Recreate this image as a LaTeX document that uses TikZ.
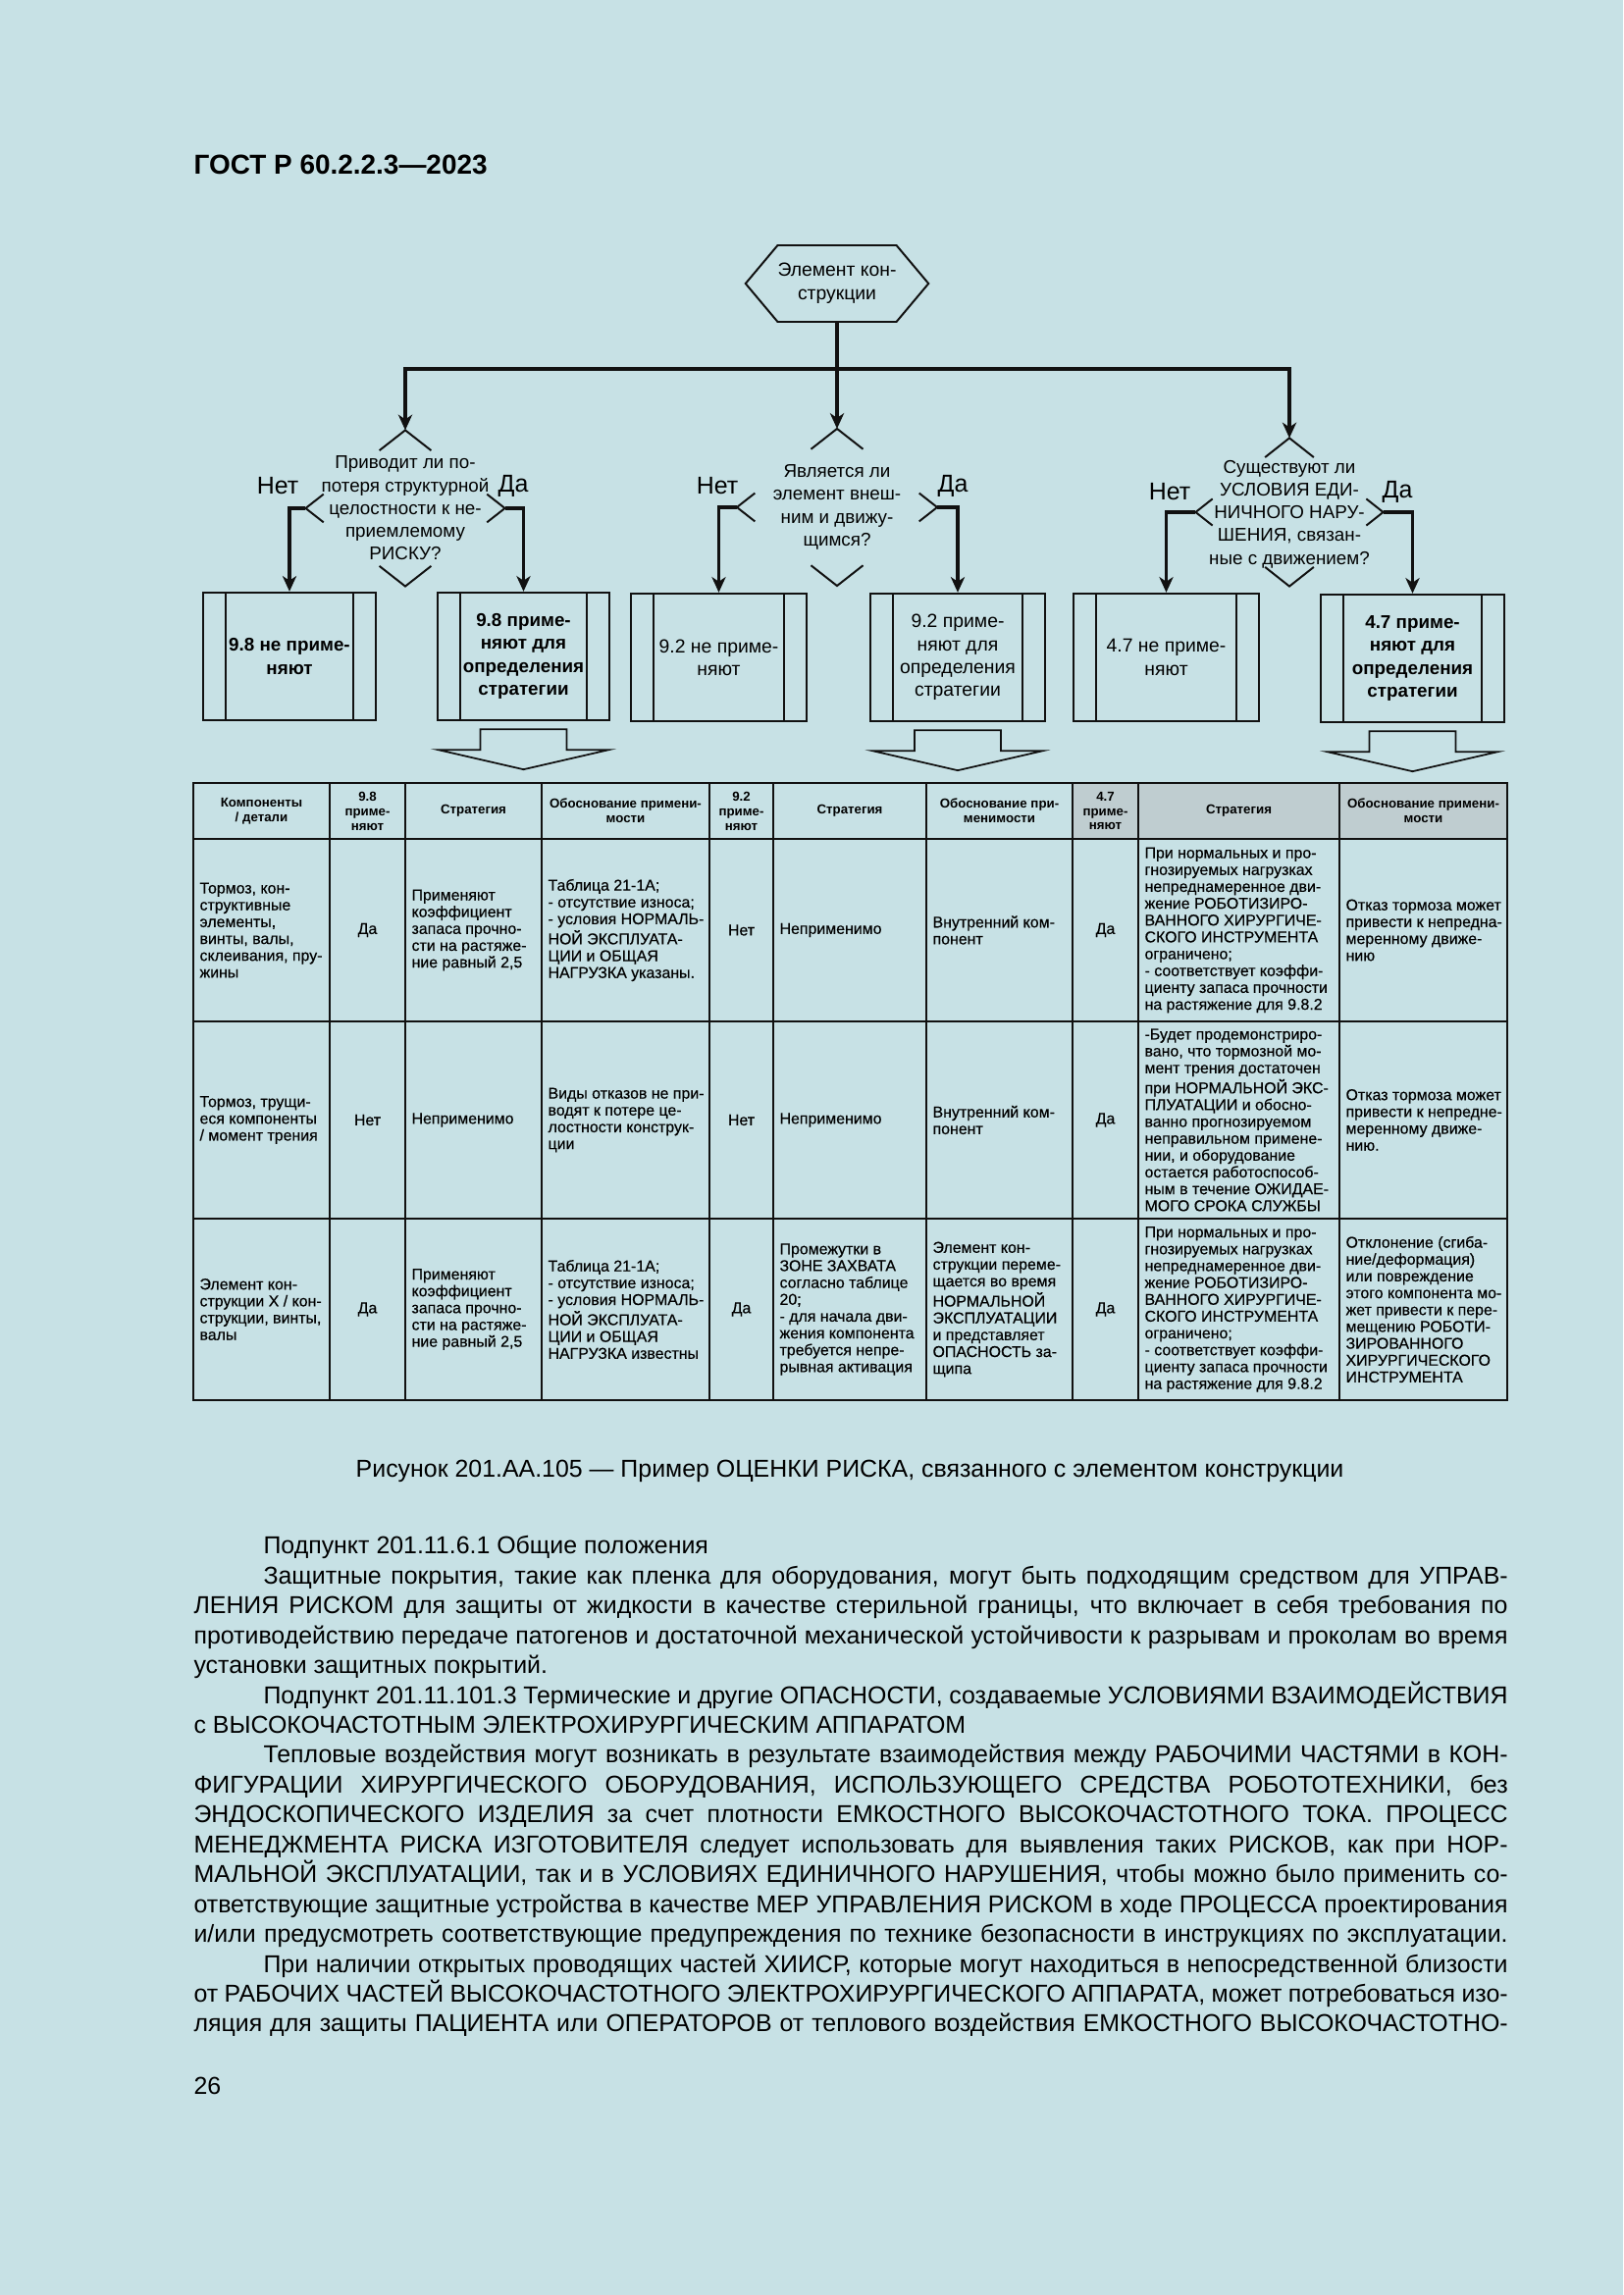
\documentclass[tikz,border=0pt]{standalone}
\usepackage{fontspec}
\setmainfont{Liberation Sans}
\newfontfamily\tabfont{Liberation Sans}[FakeBold=0.4]
\usetikzlibrary{positioning, shapes.geometric, shapes.symbols, arrows.meta, calc}
\usepackage{xcolor}
\definecolor{gostpage}{HTML}{C7E1E5}
\definecolor{gosthead}{HTML}{BFCDD0}
\definecolor{gostink}{HTML}{111111}
\newlength{\pxu}
\setlength{\pxu}{0.127mm}
% chevrons at the four tips of a decision diamond
\newcommand{\qtips}[1]{%
  \foreach \tipA/\sideA/\sideB/\armA in {north/west/east/0.26, south/west/east/0.26, west/north/south/0.18, east/north/south/0.18}
    \draw[qtip] ($(#1.\tipA)!\armA!(#1.\sideA)$) -- (#1.\tipA) -- ($(#1.\tipA)!\armA!(#1.\sideB)$);}
% hollow block arrow under a box
\newcommand{\blockdown}[1]{%
  \draw[blockarr] ($(#1.south)+(-44,8)$) -- ($(#1.south)+(44,8)$) -- ($(#1.south)+(44,29)$)
    -- ($(#1.south)+(87,29)$) -- ($(#1.south)+(0,49)$) -- ($(#1.south)+(-87,29)$)
    -- ($(#1.south)+(-44,29)$) -- cycle;}

\begin{document}
\begin{tikzpicture}[x=0.127mm, y=-0.127mm,
    trunk/.style={line width=0.55mm, color=gostink},
    flow/.style={line width=0.42mm, color=gostink},
    tipped/.style={-{Stealth[length=2mm, width=1.8mm, inset=0.6mm]}},
    qtip/.style={line width=0.25mm, color=gostink},
    qshape/.style={diamond, draw=none, inner sep=0pt},
    qtext/.style={font=\fontsize{6.8}{8.4}\selectfont, align=center, inner sep=0pt},
    yesno/.style={font=\fontsize{9}{10}\selectfont, inner sep=0pt},
    hexa/.style={signal, signal to=west and east, signal pointer angle=100, draw=gostink,
      line width=0.25mm, minimum width=176\pxu, minimum height=78\pxu, inner sep=0pt,
      align=center, font=\fontsize{7}{8.6}\selectfont},
    procbox/.style={draw=gostink, line width=0.3mm, rectangle, minimum height=130\pxu,
      inner sep=0pt, align=center, font=\fontsize{7}{8.4}\selectfont,
      path picture={\draw[line width=0.25mm]
        ([xshift=23\pxu]path picture bounding box.north west) -- ([xshift=23\pxu]path picture bounding box.south west)
        ([xshift=-23\pxu]path picture bounding box.north east) -- ([xshift=-23\pxu]path picture bounding box.south east);}},
    boldbox/.style={procbox, font=\fontsize{6.8}{8.4}\selectfont\bfseries},
    blockarr/.style={draw=gostink, line width=0.22mm, fill=gostpage},
    tabline/.style={line width=0.35mm, color=gostink},
    colline/.style={line width=0.22mm, color=gostink},
    hcell/.style={font=\fontsize{4.8}{5.4}\selectfont\bfseries, align=center, inner sep=0pt},
    cell/.style={font=\tabfont\fontsize{5.75}{6.2}\selectfont, align=left, anchor=west, inner sep=0pt},
    ccell/.style={font=\tabfont\fontsize{5.75}{6.2}\selectfont, align=center, inner sep=0pt},
    bodytext/.style={font=\fontsize{9}{11}\selectfont, text width=1339\pxu, align=justify,
      inner sep=0pt, anchor=north west}]

  % page
  \fill[gostpage] (0,0) rectangle (1654,2339);
  \node[anchor=base west, inner sep=0pt, font=\fontsize{10.1}{12}\selectfont\bfseries] (doc) at (197,178) {ГОСТ Р 60.2.2.3—2023};

  % flowchart
  \node[hexa] (hex) at (853,289) {Элемент кон-\\струкции};
  \coordinate (bus) at (853,376);

  \node[qshape, minimum width=202\pxu, minimum height=158\pxu] (q1) at (413,518) {};
  \node[qshape, minimum width=203\pxu, minimum height=159\pxu] (q2) at (853,517) {};
  \node[qshape, minimum width=190\pxu, minimum height=150\pxu] (q3) at (1314,522) {};
  \qtips{q1}
  \qtips{q2}
  \qtips{q3}
  \node[qtext] (q1t) at (q1.center) {Приводит ли по-\\потеря структурной\\целостности к не-\\приемлемому\\РИСКУ?};
  \node[qtext] (q2t) at (q2.center) {Является ли\\элемент внеш-\\ним и движу-\\щимся?};
  \node[qtext] (q3t) at ([yshift=-2\pxu]q3.center) {Существуют ли\\УСЛОВИЯ ЕДИ-\\НИЧНОГО НАРУ-\\ШЕНИЯ, связан-\\ные с движением?};

  \node[yesno] (q1no) at (283,495) {Нет};
  \node[yesno] (q1yes) at (523,495) {Да};
  \node[yesno] (q2no) at (731,495) {Нет};
  \node[yesno] (q2yes) at (971,495) {Да};
  \node[yesno] (q3no) at (1192,501) {Нет};
  \node[yesno] (q3yes) at (1424,501) {Да};

  \node[boldbox, minimum width=176\pxu] (b1) at (295,669) {9.8 не приме-\\няют};
  \node[boldbox, minimum width=175\pxu] (b2) at (533.5,669) {9.8 приме-\\няют для\\определения\\стратегии};
  \node[procbox, minimum width=179\pxu] (b3) at (732.5,670) {9.2 не приме-\\няют};
  \node[procbox, minimum width=178\pxu] (b4) at (976,670) {9.2 приме-\\няют для\\определения\\стратегии};
  \node[procbox, minimum width=189\pxu] (b5) at (1188.5,670) {4.7 не приме-\\няют};
  \node[boldbox, minimum width=187\pxu] (b6) at (1439.5,671) {4.7 приме-\\няют для\\определения\\стратегии};

  \draw[trunk] (hex.south) -- (bus);
  \draw[trunk, tipped] (bus) -| (q1.north);
  \draw[trunk, tipped] (bus) -- (q2.north);
  \draw[trunk, tipped] (bus) -| (q3.north);
  \draw[flow, tipped] (q1.west) -| (b1.north);
  \draw[flow, tipped] (q1.east) -| (b2.north);
  \draw[flow, tipped] (q2.west) -| (b3.north);
  \draw[flow, tipped] (q2.east) -| (b4.north);
  \draw[flow, tipped] (q3.west) -| (b5.north);
  \draw[flow, tipped] (q3.east) -| (b6.north);

  \blockdown{b2}
  \blockdown{b4}
  \blockdown{b6}

  % table
  \fill[gosthead] (1093,798) rectangle (1536,855);
  \draw[tabline] (197,798) rectangle (1536,1427);
  \foreach \y in {855,1041,1242}
    \draw[tabline] (197,\y) -- (1536,\y);
  \foreach \x in {336,413,552,723,788,944,1093,1160,1365}
    \draw[colline] (\x,798) -- (\x,1427);

  \node[hcell] (h1) at (266.5,826.5) {Компоненты\\/ детали};
  \node[hcell] (h2) at (374.5,826.5) {9.8\\приме-\\няют};
  \node[hcell] (h3) at (482.5,826.5) {Стратегия};
  \node[hcell] (h4) at (637.5,826.5) {Обоснование примени-\\мости};
  \node[hcell] (h5) at (755.5,826.5) {9.2\\приме-\\няют};
  \node[hcell] (h6) at (866,826.5) {Стратегия};
  \node[hcell] (h7) at (1018.5,826.5) {Обоснование при-\\менимости};
  \node[hcell] (h8) at (1126.5,826.5) {4.7\\приме-\\няют};
  \node[hcell] (h9) at (1262.5,826.5) {Стратегия};
  \node[hcell] (h10) at (1450.5,826.5) {Обоснование примени-\\мости};

  \node[cell] (r1c1) at (203,948) {Тормоз, кон-\\структивные\\элементы,\\винты, валы,\\склеивания, пру-\\жины};
  \node[ccell] (r1c2) at (374.5,948) {Да};
  \node[cell] (r1c3) at (419,948) {Применяют\\коэффициент\\запаса прочно-\\сти на растяже-\\ние равный 2,5};
  \node[cell] (r1c4) at (558,948) {Таблица 21-1А;\\- отсутствие износа;\\- условия НОРМАЛЬ-\\НОЙ ЭКСПЛУАТА-\\ЦИИ и ОБЩАЯ\\НАГРУЗКА указаны.};
  \node[ccell] (r1c5) at (755.5,948) {Нет};
  \node[cell] (r1c6) at (794,948) {Неприменимо};
  \node[cell] (r1c7) at (950,948) {Внутренний ком-\\понент};
  \node[ccell] (r1c8) at (1126.5,948) {Да};
  \node[cell] (r1c9) at (1166,948) {При нормальных и про-\\гнозируемых нагрузках\\непреднамеренное дви-\\жение РОБОТИЗИРО-\\ВАННОГО ХИРУРГИЧЕ-\\СКОГО ИНСТРУМЕНТА\\ограничено;\\- соответствует коэффи-\\циенту запаса прочности\\на растяжение для 9.8.2};
  \node[cell] (r1c10) at (1371,948) {Отказ тормоза может\\привести к непредна-\\меренному движе-\\нию};

  \node[cell] (r2c1) at (203,1141.5) {Тормоз, трущи-\\еся компоненты\\/ момент трения};
  \node[ccell] (r2c2) at (374.5,1141.5) {Нет};
  \node[cell] (r2c3) at (419,1141.5) {Неприменимо};
  \node[cell] (r2c4) at (558,1141.5) {Виды отказов не при-\\водят к потере це-\\лостности конструк-\\ции};
  \node[ccell] (r2c5) at (755.5,1141.5) {Нет};
  \node[cell] (r2c6) at (794,1141.5) {Неприменимо};
  \node[cell] (r2c7) at (950,1141.5) {Внутренний ком-\\понент};
  \node[ccell] (r2c8) at (1126.5,1141.5) {Да};
  \node[cell] (r2c9) at (1166,1141.5) {-Будет продемонстриро-\\вано, что тормозной мо-\\мент трения достаточен\\при НОРМАЛЬНОЙ ЭКС-\\ПЛУАТАЦИИ и обосно-\\ванно прогнозируемом\\неправильном примене-\\нии, и оборудование\\остается работоспособ-\\ным в течение ОЖИДАЕ-\\МОГО СРОКА СЛУЖБЫ};
  \node[cell] (r2c10) at (1371,1141.5) {Отказ тормоза может\\привести к непредне-\\меренному движе-\\нию.};

  \node[cell] (r3c1) at (203,1334.5) {Элемент кон-\\струкции Х / кон-\\струкции, винты,\\валы};
  \node[ccell] (r3c2) at (374.5,1334.5) {Да};
  \node[cell] (r3c3) at (419,1334.5) {Применяют\\коэффициент\\запаса прочно-\\сти на растяже-\\ние равный 2,5};
  \node[cell] (r3c4) at (558,1334.5) {Таблица 21-1А;\\- отсутствие износа;\\- условия НОРМАЛЬ-\\НОЙ ЭКСПЛУАТА-\\ЦИИ и ОБЩАЯ\\НАГРУЗКА известны};
  \node[ccell] (r3c5) at (755.5,1334.5) {Да};
  \node[cell] (r3c6) at (794,1334.5) {Промежутки в\\ЗОНЕ ЗАХВАТА\\согласно таблице\\20;\\- для начала дви-\\жения компонента\\требуется непре-\\рывная активация};
  \node[cell] (r3c7) at (950,1334.5) {Элемент кон-\\струкции переме-\\щается во время\\НОРМАЛЬНОЙ\\ЭКСПЛУАТАЦИИ\\и представляет\\ОПАСНОСТЬ за-\\щипа};
  \node[ccell] (r3c8) at (1126.5,1334.5) {Да};
  \node[cell] (r3c9) at (1166,1334.5) {При нормальных и про-\\гнозируемых нагрузках\\непреднамеренное дви-\\жение РОБОТИЗИРО-\\ВАННОГО ХИРУРГИЧЕ-\\СКОГО ИНСТРУМЕНТА\\ограничено;\\- соответствует коэффи-\\циенту запаса прочности\\на растяжение для 9.8.2};
  \node[cell] (r3c10) at (1371,1334.5) {Отклонение (сгиба-\\ние/деформация)\\или повреждение\\этого компонента мо-\\жет привести к пере-\\мещению РОБОТИ-\\ЗИРОВАННОГО\\ХИРУРГИЧЕСКОГО\\ИНСТРУМЕНТА};

  % caption and running text
  \node[anchor=base, inner sep=0pt, font=\fontsize{9}{11}\selectfont] (caption) at (866,1505)
    {Рисунок 201.АА.105 — Пример ОЦЕНКИ РИСКА, связанного с элементом конструкции};

  \node[bodytext] (body) at (197,1565) {\parindent=0pt\tolerance=10000\hyphenpenalty=10000
    \hspace*{71\pxu}Подпункт 201.11.6.1 Общие положения\par
    \hspace*{71\pxu}Защитные покрытия, такие как пленка для оборудования, могут быть подходящим средством для УПРАВ-\linebreak
    ЛЕНИЯ РИСКОМ для защиты от жидкости в качестве стерильной границы, что включает в себя требования по\linebreak
    противодействию передаче патогенов и достаточной механической устойчивости к разрывам и проколам во время\linebreak
    установки защитных покрытий.\par
    \hspace*{71\pxu}Подпункт 201.11.101.3 Термические и другие ОПАСНОСТИ, создаваемые УСЛОВИЯМИ ВЗАИМОДЕЙСТВИЯ\linebreak
    с ВЫСОКОЧАСТОТНЫМ ЭЛЕКТРОХИРУРГИЧЕСКИМ АППАРАТОМ\par
    \hspace*{71\pxu}Тепловые воздействия могут возникать в результате взаимодействия между РАБОЧИМИ ЧАСТЯМИ в КОН-\linebreak
    ФИГУРАЦИИ ХИРУРГИЧЕСКОГО ОБОРУДОВАНИЯ, ИСПОЛЬЗУЮЩЕГО СРЕДСТВА РОБОТОТЕХНИКИ, без\linebreak
    ЭНДОСКОПИЧЕСКОГО ИЗДЕЛИЯ за счет плотности ЕМКОСТНОГО ВЫСОКОЧАСТОТНОГО ТОКА. ПРОЦЕСС\linebreak
    МЕНЕДЖМЕНТА РИСКА ИЗГОТОВИТЕЛЯ следует использовать для выявления таких РИСКОВ, как при НОР-\linebreak
    МАЛЬНОЙ ЭКСПЛУАТАЦИИ, так и в УСЛОВИЯХ ЕДИНИЧНОГО НАРУШЕНИЯ, чтобы можно было применить со-\linebreak
    ответствующие защитные устройства в качестве МЕР УПРАВЛЕНИЯ РИСКОМ в ходе ПРОЦЕССА проектирования\linebreak
    и/или предусмотреть соответствующие предупреждения по технике безопасности в инструкциях по эксплуатации.{\parfillskip=0pt\par}
    \hspace*{71\pxu}При наличии открытых проводящих частей ХИИСР, которые могут находиться в непосредственной близости\linebreak
    от РАБОЧИХ ЧАСТЕЙ ВЫСОКОЧАСТОТНОГО ЭЛЕКТРОХИРУРГИЧЕСКОГО АППАРАТА, может потребоваться изо-\linebreak
    ляция для защиты ПАЦИЕНТА или ОПЕРАТОРОВ от теплового воздействия ЕМКОСТНОГО ВЫСОКОЧАСТОТНО-{\parfillskip=0pt\par}};

  \node[anchor=base west, inner sep=0pt, font=\fontsize{9}{11}\selectfont] (pagenum) at (197,2134) {26};
\end{tikzpicture}
\end{document}
